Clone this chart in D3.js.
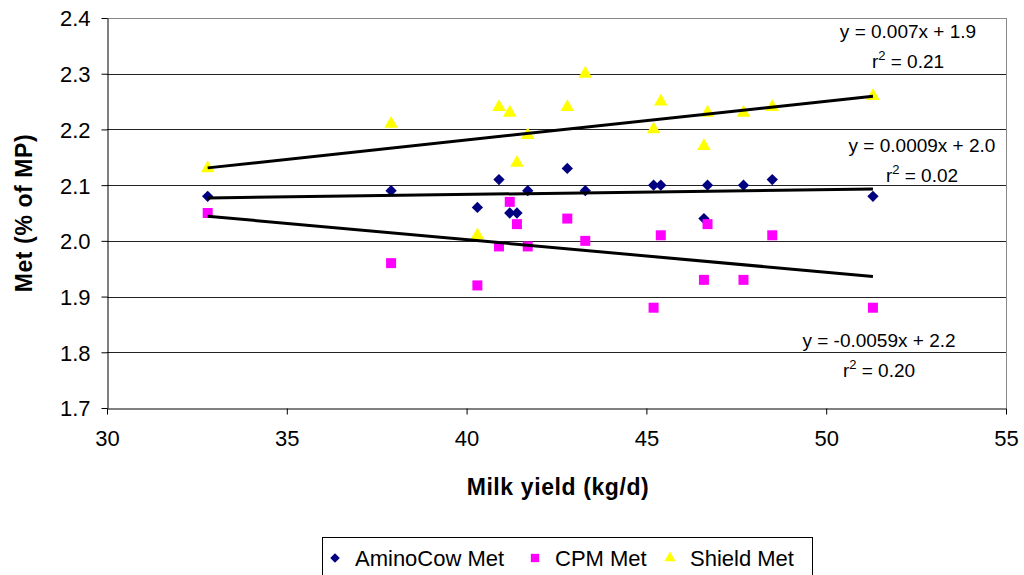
<!DOCTYPE html>
<html>
<head>
<meta charset="utf-8">
<script src="https://cdn.jsdelivr.net/npm/d3@7"></script>
<style>
  body { margin: 0; background: #fff; }
  text { font-family: "Liberation Sans", Arial, sans-serif; fill: #000; }
</style>
</head>
<body>
<div id="chart"></div>
<script>
// Milk yield (kg/d), shared by the three series
const milkYield = [32.8, 37.9, 40.3, 40.9, 41.2, 41.4, 41.7, 42.8, 43.3, 45.2, 45.4, 46.6, 46.7, 47.7, 48.5, 51.3];

// Met (% of MP)
const aminoCowMet = [2.08, 2.09, 2.06, 2.11, 2.05, 2.05, 2.09, 2.13, 2.09, 2.10, 2.10, 2.04, 2.10, 2.10, 2.11, 2.08];
const cpmMet = [2.05, 1.96, 1.92, 1.99, 2.07, 2.03, 1.99, 2.04, 2.00, 1.88, 2.01, 1.93, 2.03, 1.93, 2.01, 1.88];
const shieldMet = [2.13, 2.21, 2.01, 2.24, 2.23, 2.14, 2.19, 2.24, 2.30, 2.20, 2.25, 2.17, 2.23, 2.23, 2.24, 2.26];

const seriesNames = ['AminoCow Met', 'CPM Met', 'Shield Met'];
const xTicks = [30, 35, 40, 45, 50, 55];
const yTicks = [1.7, 1.8, 1.9, 2.0, 2.1, 2.2, 2.3, 2.4];

// Trendline labels as printed on the chart
const eqLabels = ['y = 0.0009x + 2.0', 'y = -0.0059x + 2.2', 'y = 0.007x + 1.9'];
const r2Labels = ['0.02', '0.20', '0.21'];

const cfg = {
  width: 1024,
  height: 575,
  plot: { left: 107, right: 1006, top: 18, bottom: 408 },
};

// diamond = square turned 45deg (d3's own diamond is too narrow)
const diamond = {
  draw(ctx, size) {
    const r = Math.sqrt(size / 2);
    ctx.moveTo(0, -r);
    ctx.lineTo(r, 0);
    ctx.lineTo(0, r);
    ctx.lineTo(-r, 0);
    ctx.closePath();
  },
};

const series = [
  { name: seriesNames[0], values: aminoCowMet, symbol: diamond, size: 64, fill: '#000080',
    eq: eqLabels[0], r2: r2Labels[0], lab: { x: 922, y: 152, y2: 182 } },
  { name: seriesNames[1], values: cpmMet, symbol: d3.symbolSquare, size: 100, fill: '#ff00ff',
    eq: eqLabels[1], r2: r2Labels[1], lab: { x: 879, y: 347, y2: 377 } },
  { name: seriesNames[2], values: shieldMet, symbol: d3.symbolTriangle, size: 80, fill: '#ffff00',
    eq: eqLabels[2], r2: r2Labels[2], lab: { x: 908, y: 38, y2: 68 } },
];

const x = d3.scaleLinear().domain([30, 55]).range([cfg.plot.left, cfg.plot.right]);
const y = d3.scaleLinear().domain([1.7, 2.4]).range([cfg.plot.bottom, cfg.plot.top]);

const svg = d3.select('#chart').append('svg')
  .attr('width', cfg.width)
  .attr('height', cfg.height);

// Grid lines
svg.append('g')
  .selectAll('line')
  .data(yTicks.slice(1))
  .enter()
  .append('line')
  .attr('x1', cfg.plot.left)
  .attr('x2', cfg.plot.right)
  .attr('y1', (d) => Math.round(y(d)) + 0.5)
  .attr('y2', (d) => Math.round(y(d)) + 0.5)
  .attr('stroke', (d, i, arr) => (i === arr.length - 1 ? '#888' : '#222'))
  .attr('stroke-width', 1);

// Right plot border
svg.append('line')
  .attr('x1', cfg.plot.right + 0.5).attr('x2', cfg.plot.right + 0.5)
  .attr('y1', cfg.plot.top).attr('y2', cfg.plot.bottom)
  .attr('stroke', '#888');

// Axes
const xAxis = svg.append('g')
  .attr('transform', `translate(0,${cfg.plot.bottom + 0.5})`)
  .call(d3.axisBottom(x).tickValues(xTicks).tickSize(6).tickSizeOuter(0).tickPadding(13));
const yAxis = svg.append('g')
  .attr('transform', `translate(${cfg.plot.left + 0.5},0)`)
  .call(d3.axisLeft(y).tickValues(yTicks).tickFormat(d3.format('.1f')).tickSize(6).tickSizeOuter(0).tickPadding(11));

[xAxis, yAxis].forEach((ax) => {
  ax.select('.domain').attr('stroke', '#000');
  ax.selectAll('.tick line').attr('stroke', '#000');
  ax.selectAll('.tick text')
    .attr('font-size', 22)
    .attr('font-family', '"Liberation Sans", Arial, sans-serif')
    .attr('fill', '#000');
});
xAxis.selectAll('.tick text').attr('dy', '0.85em');
yAxis.selectAll('.tick text').attr('dy', '0.36em');

// Axis titles
svg.append('text')
  .attr('x', 558)
  .attr('y', 495)
  .attr('text-anchor', 'middle')
  .attr('font-size', 23)
  .attr('font-weight', 'bold')
  .attr('letter-spacing', 0.6)
  .text('Milk yield (kg/d)');

svg.append('text')
  .attr('transform', 'translate(32,213) rotate(-90)')
  .attr('text-anchor', 'middle')
  .attr('font-size', 23)
  .attr('font-weight', 'bold')
  .attr('letter-spacing', 0.6)
  .text('Met (% of MP)');

// Markers
series.forEach((s) => {
  svg.append('g')
    .selectAll('path')
    .data(s.values.map((v, i) => [milkYield[i], v]))
    .enter()
    .append('path')
    .attr('transform', (d) => `translate(${x(d[0])},${y(d[1])})`)
    .attr('d', d3.symbol().type(s.symbol).size(s.size))
    .attr('fill', s.fill);
});

// Linear trendlines (least squares)
series.forEach((s) => {
  const mx = d3.mean(milkYield);
  const my = d3.mean(s.values);
  const sxy = d3.sum(milkYield, (v, i) => (v - mx) * (s.values[i] - my));
  const sxx = d3.sum(milkYield, (v) => (v - mx) * (v - mx));
  const slope = sxy / sxx;
  const icpt = my - slope * mx;
  const [x0, x1] = d3.extent(milkYield);

  svg.append('line')
    .attr('x1', x(x0)).attr('y1', y(icpt + slope * x0))
    .attr('x2', x(x1)).attr('y2', y(icpt + slope * x1))
    .attr('stroke', '#000')
    .attr('stroke-width', 3);

  svg.append('text')
    .attr('x', s.lab.x)
    .attr('y', s.lab.y)
    .attr('text-anchor', 'middle')
    .attr('font-size', 19)
    .text(s.eq);

  const r = svg.append('text')
    .attr('x', s.lab.x)
    .attr('y', s.lab.y2)
    .attr('text-anchor', 'middle')
    .attr('font-size', 19);
  r.append('tspan').text('r');
  r.append('tspan').attr('font-size', 13).attr('dy', -8).text('2');
  r.append('tspan').attr('dy', 8).text(` = ${s.r2}`);
});

// Legend
const legend = svg.append('g');
legend.append('rect')
  .attr('x', 322.5).attr('y', 537.5)
  .attr('width', 490).attr('height', 50)
  .attr('fill', '#fff')
  .attr('stroke', '#000');

const legendPos = [335, 535, 670];
series.forEach((s, i) => {
  legend.append('path')
    .attr('transform', `translate(${legendPos[i]},558)`)
    .attr('d', d3.symbol().type(s.symbol).size(s.size * 0.7))
    .attr('fill', s.fill);
  legend.append('text')
    .attr('x', legendPos[i] + 20)
    .attr('y', 566)
    .attr('font-size', 22)
    .text(s.name);
});
</script>
</body>
</html>
